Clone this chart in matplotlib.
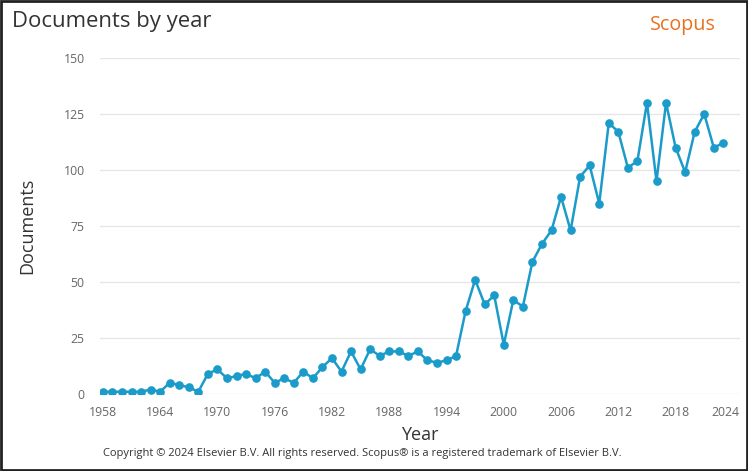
import matplotlib.pyplot as plt
import matplotlib.patches as patches
import matplotlib.transforms as mtransforms

plt.rcParams['font.family'] = ['Open Sans', 'DejaVu Sans']

# documents per year
years = list(range(1958, 2024))
documents = [
    1, 1, 1, 1, 1, 2, 1, 5, 4, 3,          # 1958-1967
    1, 9, 11, 7, 8, 9, 7, 10, 5, 7,        # 1968-1977
    5, 10, 7, 12, 16, 10, 19, 11, 20, 17,  # 1978-1987
    19, 19, 17, 19, 15, 14, 15, 17, 37, 51,  # 1988-1997
    40, 44, 22, 42, 39, 59, 67, 73, 88, 73,  # 1998-2007
    97, 102, 85, 121, 117, 101, 104, 130, 95, 130,  # 2008-2017
    110, 99, 117, 125, 110, 112,           # 2018-2023
]
x_ticks = list(range(1958, 2025, 6))
y_ticks = [0, 25, 50, 75, 100, 125, 150]

line_color = '#1b9bca'

fig = plt.figure(figsize=(7.48, 4.71), dpi=100)
ax = fig.add_axes([0.1337, 0.1635, 0.855, 0.7135])

ax.plot(years, documents, color=line_color, lw=1.8, marker='o', markersize=5.2,
        zorder=3)

ax.set_xlim(1957.7, 2024.7)
ax.set_ylim(0, 150)
ax.set_xticks(x_ticks)
ax.set_yticks(y_ticks)
ax.tick_params(length=0, labelsize=8.8, labelcolor='#666666')
ax.tick_params(axis='y', pad=11)
ax.tick_params(axis='x', pad=9)
ax.yaxis.grid(True, color='#e6e6e6', lw=1)
ax.set_axisbelow(True)
for s in ax.spines.values():
    s.set_visible(False)

# last year label is pulled in so it stays inside the frame
last = ax.get_xticklabels()[-1]
last.set_transform(last.get_transform() +
                   mtransforms.ScaledTranslation(-7 / 100, 0, fig.dpi_scale_trans))

ax.set_xlabel('Year', fontsize=13, color='#333333', labelpad=5)
ax.set_ylabel('Documents', fontsize=13, color='#333333', labelpad=20)

fig.text(0.016, 0.955, 'Documents by year', fontsize=15.9, color='#333333',
         va='center', ha='left')
fig.text(0.957, 0.947, 'Scopus', fontsize=14.2, color='#e9711c',
         va='center', ha='right')
fig.text(0.1377, 0.038, 'Copyright \u00a9 2024 Elsevier B.V. All rights reserved. '
         'Scopus\u00ae is a registered trademark of Elsevier B.V.',
         fontsize=8, color='#333333', va='center', ha='left')

# black frame round the whole picture
fig.patches.append(patches.Rectangle((0.002, 0.003), 0.996, 0.994,
                                     transform=fig.transFigure, fill=False,
                                     edgecolor='#222222', lw=2))

fig.savefig('out.png', dpi=100)
